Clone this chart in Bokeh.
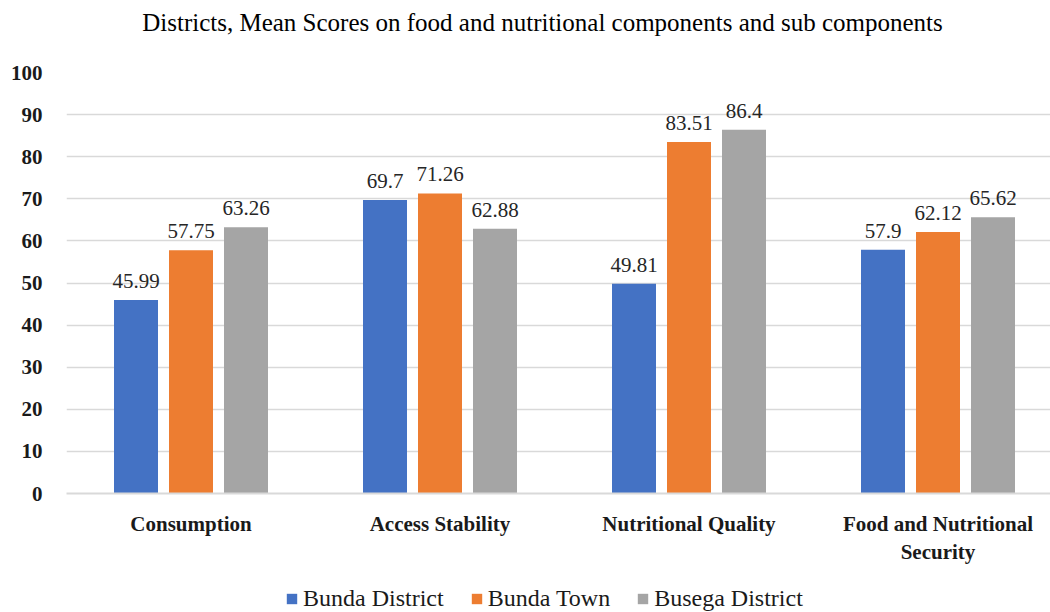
from bokeh.plotting import figure
from bokeh.layouts import column
from bokeh.models import ColumnDataSource, FixedTicker, Range1d, Legend, LegendItem
from bokeh.embed import file_html
from bokeh.resources import INLINE

categories = ["Consumption", "Access Stability", "Nutritional Quality", "Food and Nutritional\nSecurity"]
series_names = ["Bunda District", "Bunda Town", "Busega District"]
bunda_district = [45.99, 69.7, 49.81, 57.9]
bunda_town = [57.75, 71.26, 83.51, 62.12]
busega_district = [63.26, 62.88, 86.4, 65.62]
y_ticks = [0, 10, 20, 30, 40, 50, 60, 70, 80, 90, 100]
chart_title = "Districts, Mean Scores on food and nutritional components and sub components"

colors = ["#4472C4", "#ED7D31", "#A5A5A5"]
series = [bunda_district, bunda_town, busega_district]
FONT = "'Liberation Serif', 'DejaVu Serif', serif"
W = 1050
LEFT = 66
CAT_PX = 249.0
TITLE_H = 46
LEG_H = 30
MAIN_H = 612 - TITLE_H - LEG_H
offsets = [-55 / CAT_PX, 0.0, 55 / CAT_PX]
bar_w = 44 / CAT_PX


def blank(h):
    f = figure(width=W, height=h, output_backend="svg", toolbar_location=None,
               x_range=Range1d(LEFT, W), y_range=Range1d(0, h),
               x_axis_type=None, y_axis_type=None,
               min_border_left=LEFT, min_border_right=0, min_border_top=0, min_border_bottom=0)
    f.outline_line_color = None
    f.xgrid.visible = False
    f.ygrid.visible = False
    f.border_fill_color = "white"
    f.background_fill_color = "white"
    return f


# Title strip
pt = blank(TITLE_H)
pt.text(x=[542], y=[TITLE_H - 22], text=[chart_title], text_align="center", text_baseline="middle",
        text_font=FONT, text_font_size="25px", text_color="#000000")

# Main chart
p = figure(width=W, height=MAIN_H, output_backend="svg", toolbar_location=None,
           x_range=Range1d(0, (W - LEFT) / CAT_PX), y_range=Range1d(0, 100),
           min_border_left=LEFT, min_border_right=0, min_border_top=72 - TITLE_H,
           min_border_bottom=MAIN_H - (493 - TITLE_H))
p.outline_line_color = None
p.background_fill_color = "white"
p.border_fill_color = "white"

centers = [i + 0.5 for i in range(len(categories))]
for vals, col, off in zip(series, colors, offsets):
    xs = [c + off for c in centers]
    src = ColumnDataSource(dict(x=xs, top=vals, lab=[f"{v:g}" for v in vals]))
    p.vbar(x="x", top="top", width=bar_w, bottom=0, source=src, fill_color=col, line_color=None)
    p.text(x="x", y="top", text="lab", source=src, text_align="center", text_baseline="alphabetic",
           y_offset=-19, text_font_size="21px", text_color="#262626", text_font=FONT)

p.xaxis.ticker = FixedTicker(ticks=centers)
p.xaxis.major_label_overrides = {c: lab for c, lab in zip(centers, categories)}
p.xaxis.major_label_text_font = FONT
p.xaxis.major_label_text_font_size = "21px"
p.xaxis.major_label_text_font_style = "bold"
p.xaxis.major_label_text_color = "#1a1a1a"
p.xaxis.major_tick_line_color = None
p.xaxis.minor_tick_line_color = None
p.xaxis.axis_line_color = "#d9d9d9"
p.xaxis.axis_line_width = 2
p.xaxis.major_label_standoff = 12

p.yaxis.ticker = FixedTicker(ticks=y_ticks)
p.yaxis.major_label_text_font = FONT
p.yaxis.major_label_text_font_size = "21px"
p.yaxis.major_label_text_font_style = "bold"
p.yaxis.major_label_text_color = "#1a1a1a"
p.yaxis.major_tick_line_color = None
p.yaxis.minor_tick_line_color = None
p.yaxis.axis_line_color = None
p.yaxis.major_label_standoff = 18

p.xgrid.grid_line_color = None
p.ygrid.grid_line_color = "#d9d9d9"
p.ygrid.grid_line_width = 1.5

# Legend strip
pl = blank(LEG_H)
items = []
for name, col in zip(series_names, colors):
    r = pl.vbar(x=[-5000], top=[-5000], bottom=[-6000], width=1, fill_color=col, line_color=None)
    items.append(LegendItem(label=name, renderers=[r]))
legend = Legend(items=items, orientation="horizontal", location=(285 - LEFT, 0),
                label_text_font=FONT, label_text_font_size="24px", label_text_color="#1a1a1a",
                glyph_width=13, glyph_height=13, label_height=24, spacing=26, padding=0, margin=0,
                label_standoff=5, border_line_color=None, background_fill_alpha=0)
pl.add_layout(legend, "center")

layout = column(pt, p, pl, spacing=0)
open("out.html", "w").write(file_html(layout, INLINE))
